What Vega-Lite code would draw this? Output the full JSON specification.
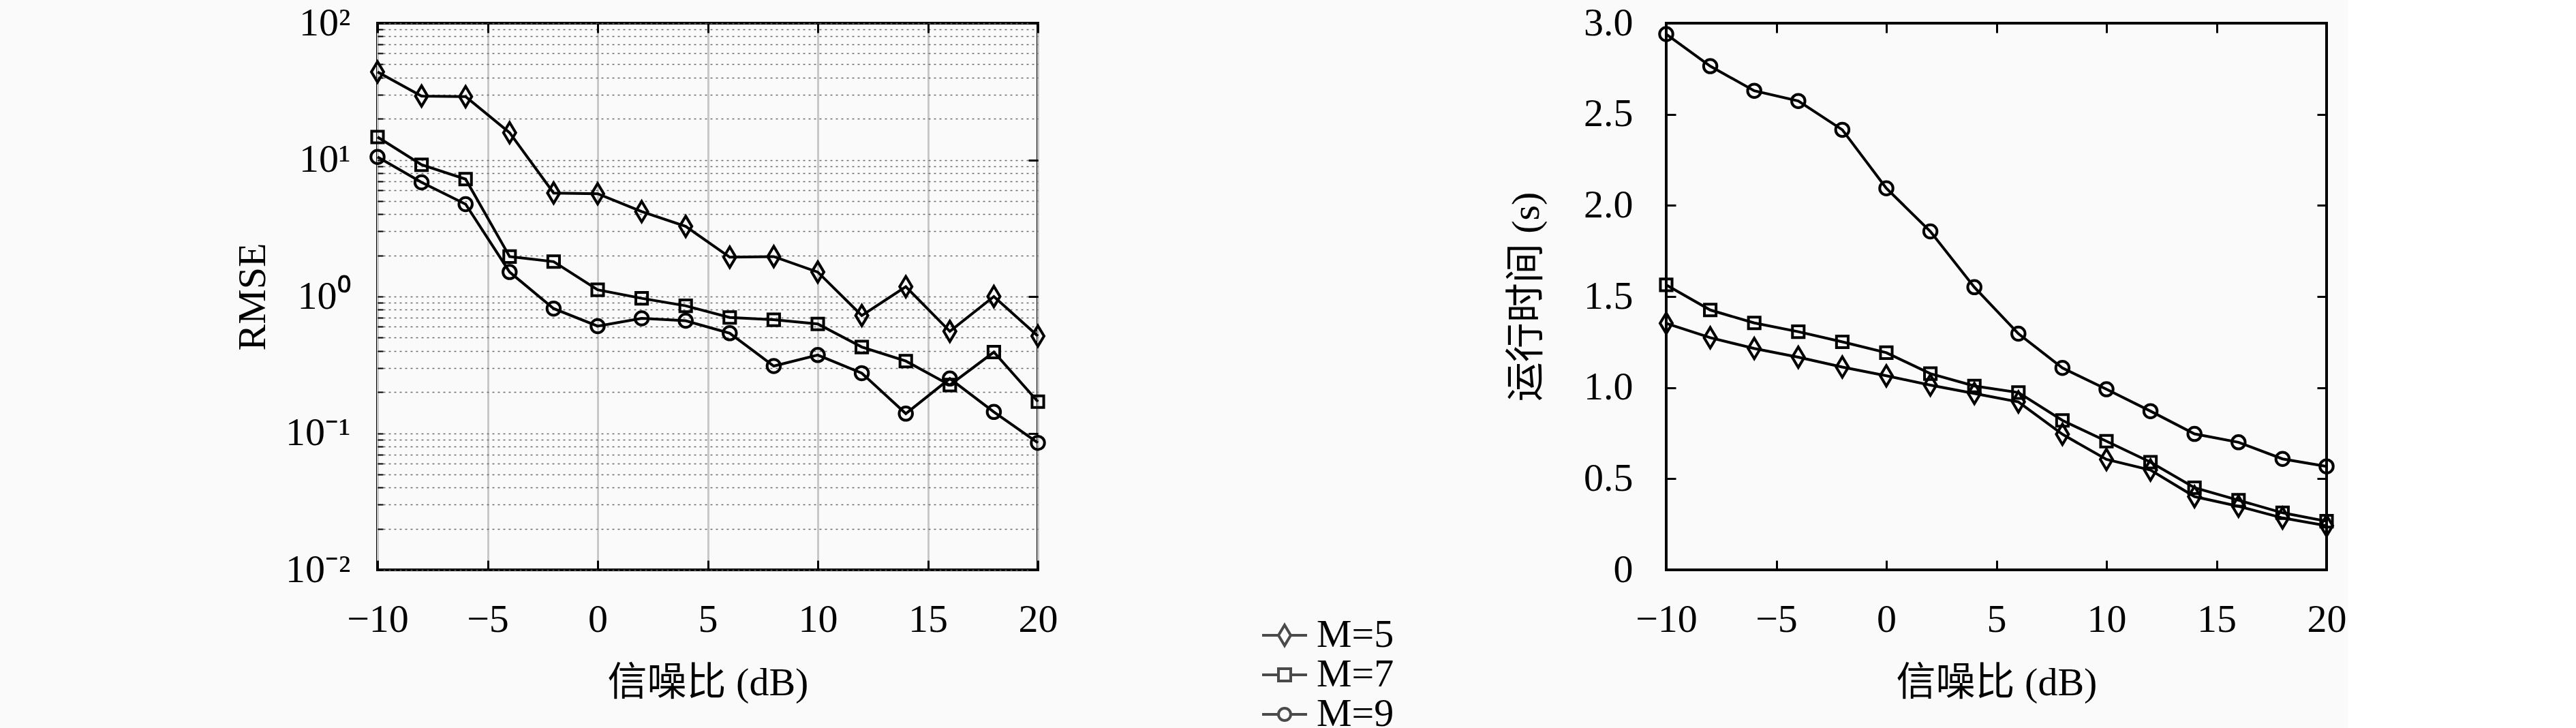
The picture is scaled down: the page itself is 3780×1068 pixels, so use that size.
{
  "$schema": "https://vega.github.io/schema/vega-lite/v6.json",
  "background": "#fafafa",
  "padding": {"left": 340, "top": 3, "right": 0, "bottom": 0},
  "spacing": 161,
  "config": {
    "font": "Liberation Serif, Noto Sans CJK SC",
    "view": {"stroke": "black", "strokeWidth": 4},
    "axis": {
      "labelFont": "Liberation Serif, Noto Sans CJK SC",
      "titleFont": "Liberation Serif, Noto Sans CJK SC",
      "labelFontSize": 58,
      "titleFontSize": 58,
      "titleFontWeight": "normal",
      "labelColor": "black",
      "titleColor": "black",
      "labelFlush": false,
      "labelOverlap": false,
      "domain": false,
      "tickColor": "black",
      "tickWidth": 3,
      "tickSize": -14,
      "labelPadding": 58
    }
  },
  "datasets": {
    "rmse": [
      {"snr": -10, "M": "M=5", "v": 44.0}, {"snr": -8, "M": "M=5", "v": 29.3}, {"snr": -6, "M": "M=5", "v": 29.0}, {"snr": -4, "M": "M=5", "v": 15.8},
      {"snr": -2, "M": "M=5", "v": 5.72}, {"snr": 0, "M": "M=5", "v": 5.65}, {"snr": 2, "M": "M=5", "v": 4.18}, {"snr": 4, "M": "M=5", "v": 3.26},
      {"snr": 6, "M": "M=5", "v": 1.94}, {"snr": 8, "M": "M=5", "v": 1.96}, {"snr": 10, "M": "M=5", "v": 1.51}, {"snr": 12, "M": "M=5", "v": 0.726},
      {"snr": 14, "M": "M=5", "v": 1.18}, {"snr": 16, "M": "M=5", "v": 0.556}, {"snr": 18, "M": "M=5", "v": 1.0}, {"snr": 20, "M": "M=5", "v": 0.514},
      {"snr": -10, "M": "M=7", "v": 14.7}, {"snr": -8, "M": "M=7", "v": 9.2}, {"snr": -6, "M": "M=7", "v": 7.23}, {"snr": -4, "M": "M=7", "v": 1.96},
      {"snr": -2, "M": "M=7", "v": 1.8}, {"snr": 0, "M": "M=7", "v": 1.12}, {"snr": 2, "M": "M=7", "v": 0.97}, {"snr": 4, "M": "M=7", "v": 0.855},
      {"snr": 6, "M": "M=7", "v": 0.703}, {"snr": 8, "M": "M=7", "v": 0.676}, {"snr": 10, "M": "M=7", "v": 0.63}, {"snr": 12, "M": "M=7", "v": 0.427},
      {"snr": 14, "M": "M=7", "v": 0.337}, {"snr": 16, "M": "M=7", "v": 0.225}, {"snr": 18, "M": "M=7", "v": 0.392}, {"snr": 20, "M": "M=7", "v": 0.17},
      {"snr": -10, "M": "M=9", "v": 10.5}, {"snr": -8, "M": "M=9", "v": 6.85}, {"snr": -6, "M": "M=9", "v": 4.74}, {"snr": -4, "M": "M=9", "v": 1.51},
      {"snr": -2, "M": "M=9", "v": 0.816}, {"snr": 0, "M": "M=9", "v": 0.607}, {"snr": 2, "M": "M=9", "v": 0.692}, {"snr": 4, "M": "M=9", "v": 0.665},
      {"snr": 6, "M": "M=9", "v": 0.539}, {"snr": 8, "M": "M=9", "v": 0.31}, {"snr": 10, "M": "M=9", "v": 0.373}, {"snr": 12, "M": "M=9", "v": 0.275},
      {"snr": 14, "M": "M=9", "v": 0.139}, {"snr": 16, "M": "M=9", "v": 0.251}, {"snr": 18, "M": "M=9", "v": 0.143}, {"snr": 20, "M": "M=9", "v": 0.085}
    ],
    "time": [
      {"snr": -10, "M": "M=5", "v": 1.353}, {"snr": -8, "M": "M=5", "v": 1.274}, {"snr": -6, "M": "M=5", "v": 1.215}, {"snr": -4, "M": "M=5", "v": 1.167},
      {"snr": -2, "M": "M=5", "v": 1.113}, {"snr": 0, "M": "M=5", "v": 1.065}, {"snr": 2, "M": "M=5", "v": 1.014}, {"snr": 4, "M": "M=5", "v": 0.968},
      {"snr": 6, "M": "M=5", "v": 0.922}, {"snr": 8, "M": "M=5", "v": 0.744}, {"snr": 10, "M": "M=5", "v": 0.606}, {"snr": 12, "M": "M=5", "v": 0.548},
      {"snr": 14, "M": "M=5", "v": 0.402}, {"snr": 16, "M": "M=5", "v": 0.349}, {"snr": 18, "M": "M=5", "v": 0.285}, {"snr": 20, "M": "M=5", "v": 0.242},
      {"snr": -10, "M": "M=7", "v": 1.564}, {"snr": -8, "M": "M=7", "v": 1.426}, {"snr": -6, "M": "M=7", "v": 1.355}, {"snr": -4, "M": "M=7", "v": 1.307},
      {"snr": -2, "M": "M=7", "v": 1.251}, {"snr": 0, "M": "M=7", "v": 1.192}, {"snr": 2, "M": "M=7", "v": 1.077}, {"snr": 4, "M": "M=7", "v": 1.009},
      {"snr": 6, "M": "M=7", "v": 0.973}, {"snr": 8, "M": "M=7", "v": 0.82}, {"snr": 10, "M": "M=7", "v": 0.706}, {"snr": 12, "M": "M=7", "v": 0.591},
      {"snr": 14, "M": "M=7", "v": 0.451}, {"snr": 16, "M": "M=7", "v": 0.382}, {"snr": 18, "M": "M=7", "v": 0.313}, {"snr": 20, "M": "M=7", "v": 0.267},
      {"snr": -10, "M": "M=9", "v": 2.94}, {"snr": -8, "M": "M=9", "v": 2.764}, {"snr": -6, "M": "M=9", "v": 2.629}, {"snr": -4, "M": "M=9", "v": 2.573},
      {"snr": -2, "M": "M=9", "v": 2.415}, {"snr": 0, "M": "M=9", "v": 2.094}, {"snr": 2, "M": "M=9", "v": 1.857}, {"snr": 4, "M": "M=9", "v": 1.551},
      {"snr": 6, "M": "M=9", "v": 1.296}, {"snr": 8, "M": "M=9", "v": 1.108}, {"snr": 10, "M": "M=9", "v": 0.991}, {"snr": 12, "M": "M=9", "v": 0.871},
      {"snr": 14, "M": "M=9", "v": 0.746}, {"snr": 16, "M": "M=9", "v": 0.7}, {"snr": 18, "M": "M=9", "v": 0.609}, {"snr": 20, "M": "M=9", "v": 0.568}
    ]
  },
  "resolve": {"scale": {"shape": "independent"}, "legend": {"shape": "independent"}},
  "hconcat": [
    {
      "width": 969,
      "height": 802,
      "data": {"name": "rmse"},
      "layer": [
        {
          "mark": {"type": "line", "color": "black", "strokeWidth": 4},
          "encoding": {
            "x": {
              "field": "snr", "type": "quantitative",
              "scale": {"domain": [-10, 20], "nice": false},
              "axis": {"orient": "bottom", "values": [-10, -5, 0, 5, 10, 15, 20], "title": "信噪比 (dB)", "titlePadding": 35,
                       "grid": true, "gridColor": "#c8c8c8", "gridWidth": 3}
            },
            "y": {
              "field": "v", "type": "quantitative",
              "scale": {"type": "log", "domain": [0.01, 100], "nice": false},
              "axis": {
                "orient": "left", "title": "RMSE", "titlePadding": 18, "labelPadding": 48,
                "values": [0.01, 0.02, 0.03, 0.04, 0.05, 0.06, 0.07, 0.08, 0.09, 0.1, 0.2, 0.3, 0.4, 0.5, 0.6, 0.7, 0.8, 0.9, 1, 2, 3, 4, 5, 6, 7, 8, 9, 10, 20, 30, 40, 50, 60, 70, 80, 90, 100],
                "labelExpr": "datum.value == 100 ? '10²' : datum.value == 10 ? '10¹' : datum.value == 1 ? '10⁰' : datum.value == 0.1 ? '10⁻¹' : datum.value == 0.01 ? '10⁻²' : ''",
                "grid": true, "gridColor": "#6a6a6a", "gridWidth": 1.5, "gridDash": [3, 5],
                "tickSize": -8, "tickWidth": 2
              }
            },
            "detail": {"field": "M"}
          }
        },
        {
          "mark": {"type": "point", "filled": false, "stroke": "black", "strokeWidth": 4, "size": 900, "opacity": 1},
          "encoding": {
            "x": {"field": "snr", "type": "quantitative", "axis": {"orient": "top", "labels": false, "title": null, "values": [-10, -5, 0, 5, 10, 15, 20], "grid": false}},
            "y": {"field": "v", "type": "quantitative", "axis": {"orient": "right", "labels": false, "title": null, "values": [0.01, 0.1, 1, 10, 100], "grid": false}},
            "shape": {
              "field": "M", "type": "nominal",
              "scale": {"domain": ["M=5", "M=7", "M=9"], "range": ["M0,-1L0.6,0L0,1L-0.6,0Z", "M-0.57,-0.57H0.57V0.57H-0.57Z", "M0.65,0A0.65,0.65 0 1,1 -0.65,0A0.65,0.65 0 1,1 0.65,0Z"]},
              "legend": null
            }
          }
        },
        {
          "transform": [{"filter": "false"}],
          "mark": {"type": "point", "filled": false, "color": "black", "strokeWidth": 4, "size": 900},
          "encoding": {
            "shape": {
              "field": "M", "type": "nominal",
              "scale": {"domain": ["M=5", "M=7", "M=9"], "range": [
                "M-2.2,0H-0.6M0.6,0H2.2M0,-1L0.6,0L0,1L-0.6,0Z",
                "M-2.2,0H-0.6M0.6,0H2.2M-0.6,-0.6H0.6V0.6H-0.6Z",
                "M-2.2,0H-0.6M0.6,0H2.2M0.6,0A0.6,0.6 0 1,1 -0.6,0A0.6,0.6 0 1,1 0.6,0Z"]},
              "legend": {
                "orient": "none", "legendX": 1302, "legendY": 869, "title": null, "padding": 0,
                "symbolSize": 900, "symbolStrokeWidth": 4, "symbolStrokeColor": "black", "symbolFillColor": "transparent",
                "labelFont": "Liberation Serif", "labelFontSize": 58, "labelColor": "black", "labelOffset": 18, "rowPadding": -3
              }
            }
          }
        }
      ],
      "resolve": {"axis": {"x": "independent", "y": "independent"}, "scale": {"shape": "independent"}}
    },
    {
      "width": 969,
      "height": 802,
      "data": {"name": "time"},
      "layer": [
        {
          "mark": {"type": "line", "color": "black", "strokeWidth": 4},
          "encoding": {
            "x": {
              "field": "snr", "type": "quantitative",
              "scale": {"domain": [-10, 20], "nice": false},
              "axis": {"orient": "bottom", "values": [-10, -5, 0, 5, 10, 15, 20], "title": "信噪比 (dB)", "titlePadding": 35, "grid": false}
            },
            "y": {
              "field": "v", "type": "quantitative",
              "scale": {"domain": [0, 3], "nice": false},
              "axis": {"orient": "left", "title": "运行时间 (s)", "titlePadding": 54, "labelPadding": 63,
                       "values": [0, 0.5, 1, 1.5, 2, 2.5, 3], "labelExpr": "datum.value == 0 ? '0' : format(datum.value, '.1f')", "grid": false}
            },
            "detail": {"field": "M"}
          }
        },
        {
          "mark": {"type": "point", "filled": false, "stroke": "black", "strokeWidth": 4, "size": 900, "opacity": 1},
          "encoding": {
            "x": {"field": "snr", "type": "quantitative", "axis": {"orient": "top", "labels": false, "title": null, "values": [-10, -5, 0, 5, 10, 15, 20], "grid": false}},
            "y": {"field": "v", "type": "quantitative", "axis": {"orient": "right", "labels": false, "title": null, "values": [0, 0.5, 1, 1.5, 2, 2.5, 3], "grid": false}},
            "shape": {
              "field": "M", "type": "nominal",
              "scale": {"domain": ["M=5", "M=7", "M=9"], "range": ["M0,-1L0.6,0L0,1L-0.6,0Z", "M-0.57,-0.57H0.57V0.57H-0.57Z", "M0.65,0A0.65,0.65 0 1,1 -0.65,0A0.65,0.65 0 1,1 0.65,0Z"]},
              "legend": null
            }
          }
        }
      ],
      "resolve": {"axis": {"x": "independent", "y": "independent"}}
    }
  ]
}
